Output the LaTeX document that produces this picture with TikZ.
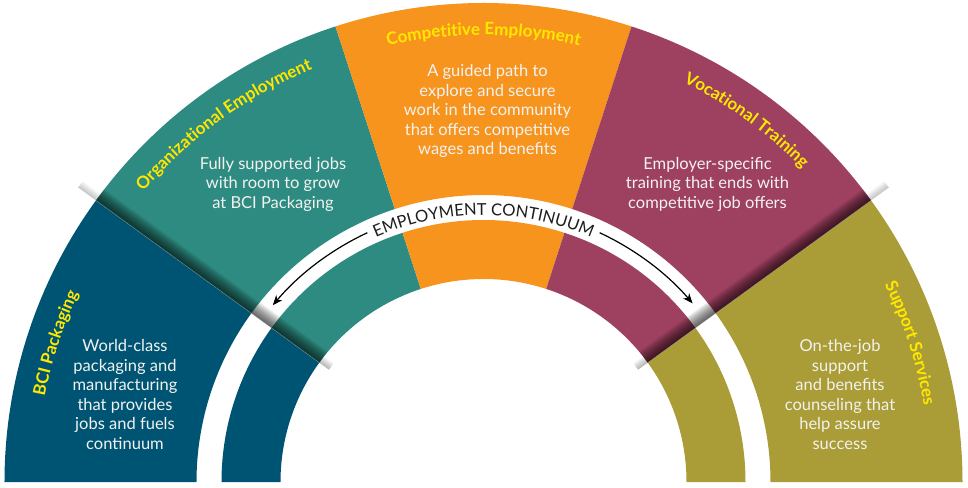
\documentclass[tikz,border=0pt]{standalone}
\usepackage{fontspec}
\setmainfont{Lato}
\usetikzlibrary{decorations.text, arrows.meta}
\definecolor{cblue}{RGB}{0,84,115}
\definecolor{cteal}{RGB}{46,139,129}
\definecolor{corange}{RGB}{247,148,30}
\definecolor{cmaroon}{RGB}{158,64,95}
\definecolor{colive}{RGB}{170,156,54}
\definecolor{cyellow}{RGB}{255,232,0}
\definecolor{cbody}{RGB}{242,242,240}
\definecolor{cink}{RGB}{30,30,30}
\newcommand{\titlefont}{\fontsize{17}{20}\selectfont\bfseries}
\newcommand{\bodyfont}{\fontsize{16.5}{19.5}\selectfont}
\newcommand{\contfont}{\fontsize{16.5}{20}\selectfont}
\def\Ro{479pt}
\def\Ra{287pt}
\def\Rb{262pt}
\def\Ri{203pt}
\newcommand{\bandseg}[3]{%
  \fill[#1] (#2:\Ro) arc[start angle=#2, end angle=#3, radius=\Ro] -- (#3:\Ra) arc[start angle=#3, end angle=#2, radius=\Ra] -- cycle;
  \fill[#1] (#2:\Rb) arc[start angle=#2, end angle=#3, radius=\Rb] -- (#3:\Ri) arc[start angle=#3, end angle=#2, radius=\Ri] -- cycle;}
\newcommand{\arctitle}[2]{%
  \pgfmathsetmacro\tA{#1+32}\pgfmathsetmacro\tB{#1-32}%
  \path[decorate, decoration={text along path, text={|\titlefont|#2}, text align=center, text color=cyellow}]
    (\tA:447pt) arc[start angle=\tA, end angle=\tB, radius=447pt];}
\begin{document}
\begin{tikzpicture}[x=1pt,y=1pt,
  body/.style={text=cbody, align=center, font=\bodyfont, inner sep=0pt},
  arrowst/.style={draw=black, line width=1.2pt, -{Stealth[length=10pt,width=8pt,inset=3pt]}}]
\useasboundingbox[fill=white] (-483.5,-5) rectangle (484.5,482);
% segments
\bandseg{cblue}{144}{180}
\bandseg{cteal}{108}{144}
\bandseg{corange}{72}{108}
\bandseg{cmaroon}{36}{72}
\bandseg{colive}{0}{36}
% fold shadows
\begin{scope}[rotate=144]
  \foreach \k in {1,...,14} {\fill[black, opacity=0.06] (203pt,0pt) rectangle (479pt,-\k pt);}
  \foreach \k in {1,...,8} {\fill[black, opacity=0.028] (479pt,0pt) rectangle (501pt,-\k pt);}
  \foreach \k in {1,...,8} {\fill[black, opacity=0.035] (191pt,0pt) rectangle (203pt,-\k pt);}
  \draw[white, opacity=0.3, line width=0.6pt] (203pt,0pt) -- (479pt,0pt);
\end{scope}
\begin{scope}[rotate=36]
  \foreach \k in {1,...,14} {\fill[black, opacity=0.06] (203pt,0pt) rectangle (479pt,\k pt);}
  \foreach \k in {1,...,8} {\fill[black, opacity=0.028] (479pt,0pt) rectangle (501pt,\k pt);}
  \foreach \k in {1,...,8} {\fill[black, opacity=0.035] (191pt,0pt) rectangle (203pt,\k pt);}
  \draw[white, opacity=0.3, line width=0.6pt] (203pt,0pt) -- (479pt,0pt);
\end{scope}
% titles
\arctitle{162}{BCI Packaging}
\arctitle{126}{Organizational Employment}
\arctitle{90}{Competitive Employment}
\arctitle{54}{Vocational Training}
\arctitle{18}{Support Services}
% continuum label
\path[decorate, decoration={text along path, text={|\contfont|EMPLOYMENT CONTINUUM}, text align=center, text color=cink}]
  (125:267pt) arc[start angle=125, end angle=55, radius=267pt];
\coordinate (aLs) at (115:275pt);
\coordinate (aRs) at (65:275pt);
\draw[arrowst] (aLs) arc[start angle=115, end angle=140, radius=275pt];
\draw[arrowst] (aRs) arc[start angle=65, end angle=40.5, radius=275pt];
% body texts
\node[body] (tBCI) at (-358.5,87.5) {World-class\\packaging and\\manufacturing\\that provides\\jobs and fuels\\continuum};
\node[body] (tOrg) at (-210.5,298) {Fully supported jobs\\with room to grow\\at BCI Packaging};
\node[body] (tComp) at (4,371) {A guided path to\\explore and secure\\work in the community\\that offers competitive\\wages and benefits};
\node[body] (tVoc) at (224,298) {Employer-specific\\training that ends with\\competitive job offers};
\node[body] (tSup) at (356.5,87.5) {On-the-job\\support\\and benefits\\counseling that\\help assure\\success};
\end{tikzpicture}
\end{document}
